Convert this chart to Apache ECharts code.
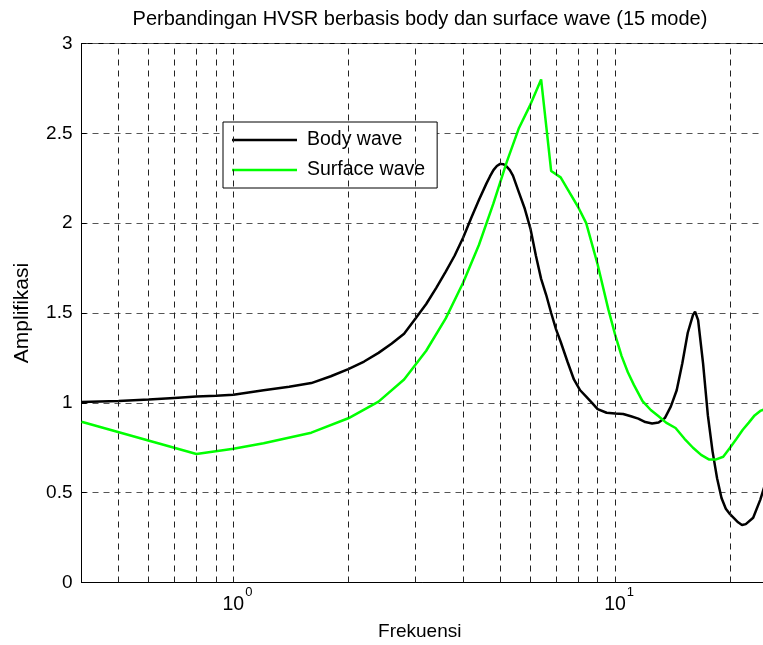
<!DOCTYPE html>
<html>
<head>
<meta charset="utf-8">
<script src="https://cdn.jsdelivr.net/npm/echarts@6/dist/echarts.min.js"></script>
<style>
  html, body { margin: 0; padding: 0; background: #fff; overflow: hidden; }
  #chart { width: 763px; height: 645px; }
</style>
</head>
<body>
<div id="chart"></div>
<script>
// HVSR amplification curves: body-wave model vs. surface-wave model (15 modes)
const bodyFreq = [0.4, 0.5, 0.6, 0.7, 0.8, 0.9, 1.0, 1.2, 1.4, 1.6, 1.8, 2.0, 2.2, 2.4, 2.6, 2.8,
  3.0, 3.2, 3.4, 3.6, 3.8, 4.0, 4.2, 4.4, 4.6, 4.7, 4.8, 4.9, 5.0, 5.1, 5.2, 5.3, 5.4, 5.6, 5.8,
  6.0, 6.2, 6.4, 6.6, 6.8, 7.0, 7.2, 7.5, 7.8, 8.1, 8.4, 8.7, 9.0, 9.5, 10, 10.5, 11, 11.5, 12,
  12.5, 13, 13.5, 14, 14.5, 15, 15.5, 16.0, 16.2, 16.5, 17.0, 17.5, 18.0, 18.5, 19.0, 19.5, 20.0,
  21.0, 21.5, 22.0, 23.0, 24.0, 25.0];
const bodyAmp = [1.005, 1.01, 1.018, 1.027, 1.035, 1.04, 1.045, 1.07, 1.09, 1.11, 1.148, 1.188, 1.23,
  1.278, 1.33, 1.385, 1.47, 1.55, 1.64, 1.73, 1.82, 1.92, 2.03, 2.13, 2.22, 2.26, 2.295, 2.318, 2.33,
  2.328, 2.315, 2.295, 2.265, 2.17, 2.08, 1.97, 1.82, 1.69, 1.60, 1.50, 1.41, 1.34, 1.23, 1.13,
  1.07, 1.035, 1.0, 0.965, 0.945, 0.94, 0.938, 0.925, 0.912, 0.893, 0.885, 0.89, 0.915, 0.98, 1.07,
  1.22, 1.39, 1.49, 1.508, 1.46, 1.22, 0.93, 0.73, 0.58, 0.47, 0.41, 0.38, 0.335, 0.32, 0.325,
  0.36, 0.46, 0.58];

const surfFreq = [0.4, 0.8, 1.0, 1.2, 1.6, 2.0, 2.4, 2.8, 3.2, 3.6, 4.0, 4.4, 4.8, 5.2, 5.6, 6.0,
  6.4, 6.8, 7.2, 7.6, 8.0, 8.4, 9.0, 9.6, 10.0, 10.4, 10.8, 11.2, 11.8, 12.4, 13.0, 13.6, 14.4,
  15.2, 16.0, 16.8, 17.6, 18.4, 19.2, 20.0, 20.8, 21.6, 22.4, 23.2, 24.0, 25.0];
const surfAmp = [0.895, 0.715, 0.744, 0.775, 0.834, 0.914, 1.007, 1.13, 1.29, 1.47, 1.67, 1.88,
  2.11, 2.34, 2.53, 2.66, 2.80, 2.29, 2.255, 2.17, 2.09, 2.0, 1.77, 1.52, 1.38, 1.26, 1.17, 1.10,
  1.01, 0.96, 0.925, 0.89, 0.86, 0.80, 0.75, 0.71, 0.685, 0.685, 0.70, 0.75, 0.80, 0.85, 0.89,
  0.93, 0.955, 0.97];

// log-axis grid positions and y tick values
const xGridFreqs = [0.5, 0.6, 0.7, 0.8, 0.9, 1, 2, 3, 4, 5, 6, 7, 8, 9, 10, 20];
const yTicks = [0, 0.5, 1, 1.5, 2, 2.5, 3];

const FONT = 'Liberation Sans, Arial, Helvetica, sans-serif';
const zip = (xs, ys) => xs.map((x, i) => [x, ys[i]]);

const chart = echarts.init(document.getElementById('chart'), null, { renderer: 'canvas' });

chart.setOption({
  animation: false,
  backgroundColor: '#fff',
  textStyle: { fontFamily: FONT, color: '#000' },
  title: {
    text: 'Perbandingan HVSR berbasis body dan surface wave (15 mode)',
    left: 415,
    textAlign: 'center',
    top: 4,
    textStyle: { fontFamily: FONT, fontSize: 20, fontWeight: 'normal', color: '#000' }
  },
  grid: {
    left: 81.5, top: 43.5, width: 685.5, height: 539,
    containLabel: false,
    outerBoundsMode: 'none',
    show: true, borderColor: '#000', borderWidth: 1, backgroundColor: 'transparent'
  },
  legend: {
    orient: 'vertical',
    left: 223, top: 122,
    padding: [8, 12, 8, 9],
    itemGap: 10,
    itemWidth: 65, itemHeight: 2.5,
    backgroundColor: '#fff',
    borderColor: '#000', borderWidth: 1, borderRadius: 0,
    textStyle: { fontFamily: FONT, fontSize: 19.5, color: '#000', lineHeight: 20, padding: [0, 0, 0, 5] },
    data: [{ name: 'Body wave', icon: 'rect' }, { name: 'Surface wave', icon: 'rect' }]
  },
  xAxis: {
    type: 'log', logBase: 10, min: 0.4, max: 25,
    name: 'Frekuensi', nameLocation: 'middle', nameGap: 40,
    nameTextStyle: { fontFamily: FONT, fontSize: 19, color: '#000', padding: [0, 9, 0, 0] },
    axisLine: { lineStyle: { color: '#000', width: 1 } },
    axisTick: { inside: true, length: 5, lineStyle: { color: '#000' } },
    splitLine: { show: false },
    axisLabel: {
      margin: 3, showMinLabel: false, showMaxLabel: false,
      formatter: function (v) {
        const e = Math.log10(v);
        if (Math.abs(e - Math.round(e)) > 1e-6) return '';
        return '{b|10}{s|' + Math.round(e) + '}';
      },
      rich: {
        b: { fontFamily: FONT, fontSize: 19.5, color: '#000', padding: [0, 0, 0, 8] },
        s: { fontFamily: FONT, fontSize: 13, color: '#000', padding: [0, 0, 26, 1] }
      }
    }
  },
  yAxis: {
    type: 'value', min: 0, max: 3, interval: 0.5,
    name: 'Amplifikasi', nameLocation: 'middle', nameGap: 49,
    nameTextStyle: { fontFamily: FONT, fontSize: 21, color: '#000' },
    axisLine: { show: true, lineStyle: { color: '#000', width: 1 } },
    axisTick: { show: true, inside: true, length: 5, lineStyle: { color: '#000' } },
    axisLabel: {
      margin: 9, fontFamily: FONT, fontSize: 19, color: '#000',
      formatter: function (v) { return yTicks.indexOf(v) >= 0 ? String(v) : ''; }
    },
    splitLine: { show: true, lineStyle: { color: '#555', width: 1, type: [6, 5] } }
  },
  series: [
    {
      name: 'grid',
      type: 'line',
      data: [],
      silent: true,
      z: 1,
      markLine: {
        silent: true,
        symbol: ['none', 'none'],
        label: { show: false },
        animation: false,
        lineStyle: { color: '#222', width: 1, type: [6, 5] },
        data: xGridFreqs.map(f => ({ xAxis: f }))
      }
    },
    {
      name: 'Body wave',
      type: 'line',
      data: zip(bodyFreq, bodyAmp),
      showSymbol: false, smooth: false, z: 3,
      lineStyle: { color: '#000', width: 2.5 },
      itemStyle: { color: '#000' }
    },
    {
      name: 'Surface wave',
      type: 'line',
      data: zip(surfFreq, surfAmp),
      showSymbol: false, smooth: false, z: 3,
      lineStyle: { color: '#00ff00', width: 2.5 },
      itemStyle: { color: '#00ff00' }
    }
  ]
});
</script>
</body>
</html>
